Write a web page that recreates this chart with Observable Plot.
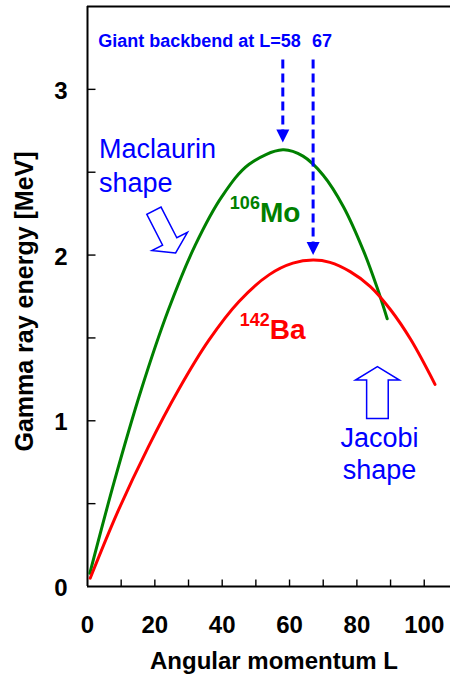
<!DOCTYPE html>
<html>
<head>
<meta charset="utf-8">
<script src="https://cdn.jsdelivr.net/npm/d3@7"></script>
<script src="https://cdn.jsdelivr.net/npm/@observablehq/plot@0.6"></script>
<style>
  html, body { margin: 0; padding: 0; background: #fff; overflow: hidden; }
</style>
</head>
<body>
<div id="chart"></div>
<script>
// Gamma-ray energy vs angular momentum for 106Mo and 142Ba
const moL = [0.7, 8, 16, 24, 32, 40, 48, 58, 64, 70, 76, 82, 86, 89];
const moE = [0.08, 0.637, 1.19, 1.668, 2.06, 2.356, 2.548, 2.635, 2.597, 2.482, 2.292, 2.024, 1.804, 1.616];

const baL = [0.8, 9, 18, 27, 36, 45, 54, 61, 67, 72, 78, 84, 90, 96, 103.2];
const baE = [0.05, 0.452, 0.84, 1.186, 1.485, 1.72, 1.882, 1.951, 1.97, 1.956, 1.9, 1.81, 1.67, 1.49, 1.22];

// Giant backbend spins and the energies the arrows point at
const backbendL = [58, 67];
const backbendE = [2.68, 2.0];

const xTicks = [0, 20, 40, 60, 80, 100];
const yTicks = [0, 1, 2, 3];
const xMinor = d3.range(10, 101, 10);
const yMinor = d3.range(0.5, 3.01, 0.5);

const FONT = "'Liberation Sans', Arial, Helvetica, sans-serif";
const BLUE = "#0000ff", GREEN = "#008000", RED = "#ff0000";

const mo = moL.map((L, i) => ({L, E: moE[i]}));
const ba = baL.map((L, i) => ({L, E: baE[i]}));
const backbend = backbendL.map((L, i) => ({L, E: backbendE[i]}));

// Outline arrow symbol, pointing up, centred on its midpoint
function hollowArrow(len, head, headW, shaftW) {
  return {
    draw(ctx) {
      const t = -len / 2, b = len / 2, h = t + head;
      ctx.moveTo(0, t);
      ctx.lineTo(headW / 2, h);
      ctx.lineTo(shaftW / 2, h);
      ctx.lineTo(shaftW / 2, b);
      ctx.lineTo(-shaftW / 2, b);
      ctx.lineTo(-shaftW / 2, h);
      ctx.lineTo(-headW / 2, h);
      ctx.closePath();
    }
  };
}
// Filled arrowhead whose tip sits on the point
const arrowHead = {
  draw(ctx) { ctx.moveTo(0, 0); ctx.lineTo(6.5, -13); ctx.lineTo(-6.5, -13); ctx.closePath(); }
};
// Inward tick marks
const tickUp = { draw(ctx) { ctx.moveTo(0, 0); ctx.lineTo(0, -7); } };
const tickRight = { draw(ctx) { ctx.moveTo(0, 0); ctx.lineTo(8, 0); } };

const chart = Plot.plot({
  width: 450,
  height: 675,
  marginLeft: 87,
  marginRight: 0,
  marginTop: 6,
  marginBottom: 89,
  x: {domain: [0, 107.8]},
  y: {domain: [0, 3.5]},
  style: {fontFamily: FONT, background: "white", color: "black"},
  marks: [
    Plot.axisX(xTicks, {tickSize: 0, tickPadding: 29, fontSize: 24, fontWeight: "bold", label: null, tickFormat: d => String(d)}),
    Plot.axisY(yTicks, {tickSize: 0, tickPadding: 20, fontSize: 24, fontWeight: "bold", label: null, dy: 2, tickFormat: d => String(d)}),
    Plot.dot(xMinor, {x: d => d, y: 0, symbol: tickUp, stroke: "black", strokeWidth: 1.4, fill: "none"}),
    Plot.dot(yMinor, {x: 0, y: d => d, symbol: tickRight, stroke: "black", strokeWidth: 1.4, fill: "none"}),
    Plot.ruleX([0], {stroke: "black", strokeWidth: 2}),
    Plot.ruleY([0, 3.5], {stroke: "black", strokeWidth: 2}),

    // curves
    Plot.line(mo, {x: "L", y: "E", stroke: GREEN, strokeWidth: 3, curve: "catmull-rom"}),
    Plot.line(ba, {x: "L", y: "E", stroke: RED, strokeWidth: 3, curve: "catmull-rom"}),

    // backbend arrows
    Plot.link(backbend, {x1: "L", x2: "L", y1: 3.18, y2: d => d.E + 0.04, stroke: BLUE, strokeWidth: 3, strokeDasharray: "9,5"}),
    Plot.dot(backbend, {x: "L", y: "E", symbol: arrowHead, fill: BLUE, stroke: "none"}),
    Plot.text(["Giant backbend at L=58"], {x: 3.2, y: 3.257, textAnchor: "start", lineAnchor: "bottom", fontSize: 18, fontWeight: "bold", fill: BLUE}),
    Plot.text(["67"], {x: 67, y: 3.257, textAnchor: "start", lineAnchor: "bottom", fontSize: 18, fontWeight: "bold", fill: BLUE, dx: -1}),

    // shape annotations
    Plot.text(["Maclaurin\nshape"], {x: 3.4, y: 2.38, textAnchor: "start", lineAnchor: "bottom", lineHeight: 1.26, fontSize: 27, fill: BLUE}),
    Plot.dot([0], {x: 22.95, y: 2.14, symbol: hollowArrow(47.5, 13, 40, 16), rotate: 152.8, fill: "none", stroke: BLUE, strokeWidth: 1.5}),
    Plot.text(["Jacobi\nshape"], {x: 86.7, y: 0.65, textAnchor: "middle", lineAnchor: "bottom", lineHeight: 1.19, fontSize: 27, fill: BLUE}),
    Plot.dot([0], {x: 86.1, y: 1.17, symbol: hollowArrow(52, 13.5, 44, 21.6), fill: "none", stroke: BLUE, strokeWidth: 1.5}),

    // nucleus labels
    Plot.text(["106"], {x: 51.2, y: 2.28, textAnchor: "end", lineAnchor: "bottom", fontSize: 18, fontWeight: "bold", fill: GREEN}),
    Plot.text(["Mo"], {x: 51.2, y: 2.197, textAnchor: "start", lineAnchor: "bottom", fontSize: 28, fontWeight: "bold", fill: GREEN}),
    Plot.text(["142"], {x: 54.1, y: 1.575, textAnchor: "end", lineAnchor: "bottom", fontSize: 18, fontWeight: "bold", fill: RED}),
    Plot.text(["Ba"], {x: 54.1, y: 1.495, textAnchor: "start", lineAnchor: "bottom", fontSize: 28, fontWeight: "bold", fill: RED}),

    // axis titles
    Plot.text(["Angular momentum L"], {frameAnchor: "bottom", textAnchor: "middle", dx: 5, dy: 82, lineAnchor: "bottom", fontSize: 24, fontWeight: "bold", fill: "black"}),
    Plot.text(["Gamma ray energy [MeV]"], {frameAnchor: "left", textAnchor: "middle", rotate: -90, dx: -55, dy: 5, lineAnchor: "bottom", fontSize: 25, fontWeight: "bold", fill: "black"})
  ]
});

document.getElementById("chart").appendChild(chart);
</script>
</body>
</html>
